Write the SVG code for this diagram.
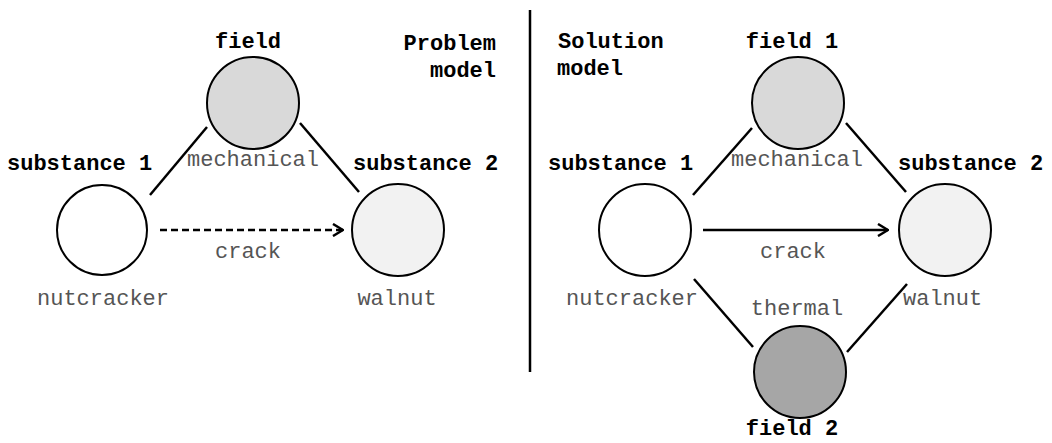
<svg xmlns="http://www.w3.org/2000/svg" width="1052" height="443" viewBox="0 0 1052 443">
<style>
.n{stroke:#000;stroke-width:2}
.b{font-family:"Liberation Mono",monospace;font-weight:bold;font-size:22px;fill:#000}
.t{font-family:"Liberation Mono",monospace;font-size:22px;fill:#555}
.c{stroke:#000;stroke-width:2.5;fill:none}
</style>
<defs>
<marker id="ah" viewBox="0 0 12 14" refX="11" refY="7" markerWidth="12" markerHeight="14" markerUnits="userSpaceOnUse" orient="auto">
<polyline points="1,1 11,7 1,13" fill="none" stroke="#000" stroke-width="2.5"/>
</marker>
</defs>
<rect width="1052" height="443" fill="#fff"/>
<line x1="530" y1="10" x2="530" y2="372" stroke="#000" stroke-width="2.5"/>
<g id="connectors">
<line class="c" x1="150" y1="195" x2="207" y2="127"/>
<line class="c" x1="300" y1="123" x2="359" y2="192"/>
<line class="c" x1="160" y1="230" x2="343" y2="230" stroke-dasharray="7,4" marker-end="url(#ah)"/>
<line class="c" x1="693" y1="195" x2="752" y2="128"/>
<line class="c" x1="846" y1="123" x2="906" y2="192"/>
<line class="c" x1="694" y1="279" x2="753" y2="347"/>
<line class="c" x1="847" y1="352" x2="907" y2="284"/>
<line class="c" x1="703" y1="230" x2="888" y2="230" marker-end="url(#ah)"/>
</g>
<g id="labels">
<text class="b" x="496" y="50" text-anchor="end">Problem</text>
<text class="b" x="496" y="77" text-anchor="end">model</text>
<text class="b" x="558" y="48">Solution</text>
<text class="b" x="557" y="75">model</text>
<text class="t" x="248" y="258" text-anchor="middle">crack</text>
<text class="t" x="793" y="258" text-anchor="middle">crack</text>
</g>
<g id="p-field">
<circle class="n" cx="253" cy="103" r="46" fill="#d9d9d9"/>
<text class="b" x="248" y="48" text-anchor="middle">field</text>
<text class="t" x="253" y="166" text-anchor="middle">mechanical</text>
</g>
<g id="p-sub1">
<circle class="n" cx="102" cy="230" r="45" fill="#fff"/>
<text class="b" x="7" y="170">substance 1</text>
<text class="t" x="103" y="305" text-anchor="middle">nutcracker</text>
</g>
<g id="p-sub2">
<circle class="n" cx="398" cy="230" r="46" fill="#f2f2f2"/>
<text class="b" x="353" y="170">substance 2</text>
<text class="t" x="397" y="305" text-anchor="middle">walnut</text>
</g>
<g id="s-field1">
<circle class="n" cx="798" cy="103" r="46" fill="#d9d9d9"/>
<text class="b" x="792" y="48" text-anchor="middle">field 1</text>
<text class="t" x="797" y="166" text-anchor="middle">mechanical</text>
</g>
<g id="s-sub1">
<circle class="n" cx="645" cy="230" r="46" fill="#fff"/>
<text class="b" x="548" y="170">substance 1</text>
<text class="t" x="566" y="305">nutcracker</text>
</g>
<g id="s-sub2">
<circle class="n" cx="945" cy="230" r="46" fill="#f2f2f2"/>
<text class="b" x="898" y="170">substance 2</text>
<text class="t" x="903" y="305">walnut</text>
</g>
<g id="s-field2">
<circle class="n" cx="800" cy="372" r="46" fill="#a6a6a6"/>
<text class="t" x="797" y="315" text-anchor="middle">thermal</text>
<text class="b" x="792" y="435" text-anchor="middle">field 2</text>
</g>
</svg>
